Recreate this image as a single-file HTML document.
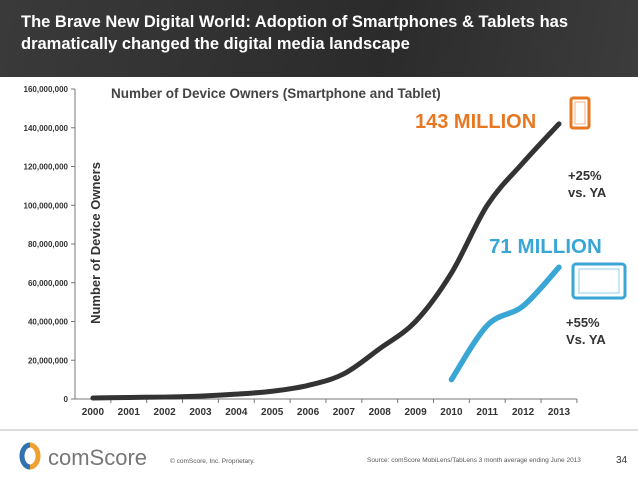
<!DOCTYPE html>
<html><head><meta charset="utf-8"><style>
body{margin:0;width:638px;height:479px;overflow:hidden;background:#fff;font-family:"Liberation Sans",sans-serif;}
#hdr{position:absolute;left:0;top:0;width:638px;height:77px;background:linear-gradient(100deg,#3a3a3a,#2b2b2b 60%,#3c3c3c);}
#hdr div{position:absolute;left:21px;top:11px;color:#fff;font-weight:bold;font-size:16.5px;line-height:22px;}
</style></head><body>
<div id="hdr"><div>The Brave New Digital World: Adoption of Smartphones &amp; Tablets has<br>dramatically changed the digital media landscape</div></div>
<svg id="chart" width="638" height="479" style="position:absolute;left:0;top:0">
<text x="111" y="98" font-size="13.5" font-weight="bold" fill="#444">Number of Device Owners (Smartphone and Tablet)</text>
<text transform="translate(100,243) rotate(-90)" text-anchor="middle" font-size="13" font-weight="bold" fill="#333">Number of Device Owners</text>
<g id="axes"></g><g id="series"></g>
<text x="415" y="128" font-size="20" font-weight="bold" fill="#e87722">143 MILLION</text>
<text x="489" y="253" font-size="20.5" font-weight="bold" fill="#3aa6d6">71 MILLION</text>
<text x="568" y="180" font-size="13" font-weight="bold" fill="#333"><tspan x="568">+25%</tspan><tspan x="568" dy="17">vs. YA</tspan></text>
<text x="566" y="327" font-size="13" font-weight="bold" fill="#333"><tspan x="566">+55%</tspan><tspan x="566" dy="17">Vs. YA</tspan></text>
<g><rect x="571" y="98" width="18" height="30" rx="2" fill="none" stroke="#e87722" stroke-width="3"/><rect x="575" y="102" width="10" height="22" fill="none" stroke="#f4b183" stroke-width="1"/></g>
<g><rect x="573" y="264" width="52" height="34" rx="3" fill="none" stroke="#3aa6d6" stroke-width="3"/><rect x="579" y="269" width="40" height="24" fill="none" stroke="#8fd0ec" stroke-width="1"/></g>
<line x1="0" y1="430" x2="638" y2="430" stroke="#bbb"/>
<g><ellipse cx="30" cy="456" rx="8" ry="11" fill="none" stroke="#f0a030" stroke-width="5"/><path d="M30 445 A8 11 0 0 0 30 467" fill="none" stroke="#2e74b5" stroke-width="5"/><text x="48" y="465" font-size="22" fill="#777">comScore</text></g>
<text x="170" y="463" font-size="6.5" fill="#555">© comScore, Inc.    Proprietary.</text>
<text x="367" y="462" font-size="6.5" fill="#555">Source: comScore MobiLens/TabLens 3 month average ending June 2013</text>
<text x="616" y="463" font-size="10" fill="#333">34</text>
</svg>
<script>
const years=["2000","2001","2002","2003","2004","2005","2006","2007","2008","2009","2010","2011","2012","2013"];
const smartphones=[0.5,0.8,1,1.5,2.5,4,7,13,26,40,65,100,122,142];
const tablets=[null,null,null,null,null,null,null,null,null,null,10,38,48,68];
const yTicks=[0,20000000,40000000,60000000,80000000,100000000,120000000,140000000,160000000];
const NS="http://www.w3.org/2000/svg";
const x0=75,bw=35.85,yb=399,yt=89;
const xs=i=>x0+bw*(i+0.5);
const ys=v=>yb-(v/160)*(yb-yt);
function mk(t,a,p){const e=document.createElementNS(NS,t);for(const k in a)e.setAttribute(k,a[k]);p.appendChild(e);return e;}
const ax=document.getElementById('axes');
let l=mk('line',{x1:x0,y1:yt,x2:x0,y2:yb,stroke:'#777'},ax);


l=mk('line',{x1:x0,y1:yb,x2:x0+bw*years.length,y2:yb,stroke:'#777'},ax);


yTicks.forEach(v=>{const y=ys(v/1e6);mk('line',{x1:x0-4,y1:y,x2:x0,y2:y,stroke:'#777'},ax);
const t=mk('text',{x:x0-7,y:y+3,'text-anchor':'end','font-size':'8','font-weight':'bold',fill:'#333'},ax);t.textContent=v.toLocaleString('en-US');

});
years.forEach((yr,i)=>{const xx=x0+bw*(i+1);mk('line',{x1:xx,y1:yb,x2:xx,y2:yb+4,stroke:'#777'},ax);
const t=mk('text',{x:xs(i),y:yb+16,'text-anchor':'middle','font-size':'10','font-weight':'bold',fill:'#333'},ax);t.textContent=yr;

});
function path(vals){const p=[];vals.forEach((v,i)=>{if(v!=null)p.push([xs(i),ys(v)]);});
let d='M'+p[0][0]+' '+p[0][1];
for(let i=0;i<p.length-1;i++){const a=p[i-1]||p[i],b=p[i],c=p[i+1],e=p[i+2]||c;
d+=` C${b[0]+(c[0]-a[0])/6} ${b[1]+(c[1]-a[1])/6} ${c[0]-(e[0]-b[0])/6} ${c[1]-(e[1]-b[1])/6} ${c[0]} ${c[1]}`;}
return d;}
const se=document.getElementById('series');
const s1=mk('path',{d:path(smartphones),fill:'none',stroke:'#333','stroke-width':5,'stroke-linecap':'round'},se);


const s2=mk('path',{d:path(tablets),fill:'none',stroke:'#3aa6d6','stroke-width':5.5,'stroke-linecap':'round'},se);


</script>
</body></html>
